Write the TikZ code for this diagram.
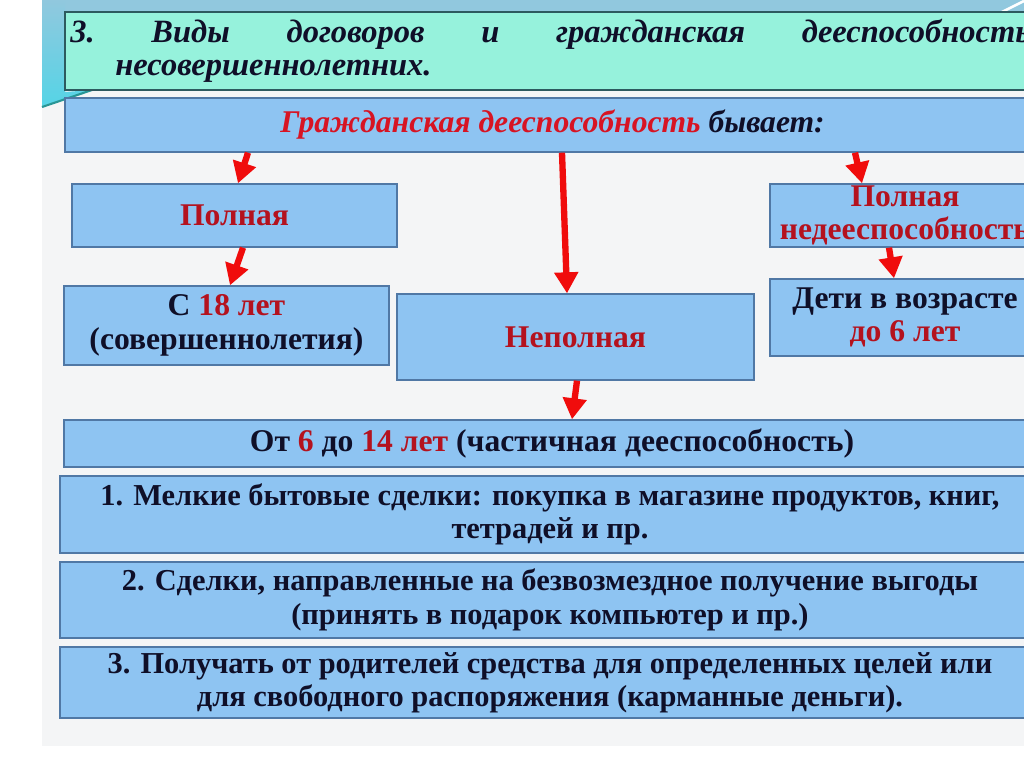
\documentclass[tikz,border=0pt]{standalone}
\usepackage{fontspec}
\setmainfont{Liberation Serif}
\usetikzlibrary{arrows.meta,calc}
\definecolor{boxfill}{RGB}{142,196,242}
\definecolor{boxline}{RGB}{80,120,165}
\definecolor{titlefill}{RGB}{150,242,220}
\definecolor{titleline}{RGB}{45,90,95}
\definecolor{redtxt}{RGB}{180,18,30}
\definecolor{redhead}{RGB}{215,20,35}
\definecolor{arrred}{RGB}{240,12,12}
\definecolor{darktext}{RGB}{15,15,40}
\definecolor{panel}{RGB}{244,245,246}
\definecolor{topblue}{RGB}{145,200,222}
\definecolor{cyanbit}{RGB}{85,212,230}
\definecolor{tealline}{RGB}{40,150,150}
\begin{document}
\begin{tikzpicture}[x=0.02cm,y=-0.02cm,
  box/.style={draw=boxline, line width=0.8pt, fill=boxfill, inner sep=0pt, align=center,
    font=\bfseries\fontsize{18}{19}\selectfont, text=darktext},
  wide/.style={font=\bfseries\fontsize{17.3}{19}\selectfont},
  titlebox/.style={draw=titleline, line width=0.8pt, fill=titlefill, inner sep=0pt},
  titletext/.style={inner sep=0pt, anchor=base west, font=\bfseries\itshape\fontsize{18.5}{19}\selectfont, text=darktext},
  arr/.style={draw=arrred, line width=3.6pt, -{Triangle[width=0.46cm,length=0.42cm]}}]
\clip (0,0) rectangle (1024,767);
% background
\fill[white] (0,0) rectangle (1024,767);
\fill[panel] (42,0) rectangle (1024,746);
\fill[topblue] (42,0) rectangle (1024,12);
\shade[top color=topblue, bottom color=cyanbit] (42,0) -- (65,0) -- (65,92) -- (92,90) -- (42,106) -- cycle;
\draw[tealline, line width=1.2pt] (42,107) -- (92,90);
\draw[white, line width=1.5pt] (1000,13) -- (1024,1);
% boxes
\node[titlebox, minimum width=19.5cm, minimum height=1.56cm] (title) at (552.5,51) {};
\node[titletext] (tA) at (70,43) {\makebox[19.2cm][s]{3.\hfill Виды\hfill договоров\hfill и\hfill гражданская\hfill дееспособность}};
\node[titletext] (tB) at (115,76) {несовершеннолетних.};
\node[box, minimum width=19.5cm, minimum height=1.08cm, font=\bfseries\itshape\fontsize{18}{19}\selectfont] (gr) at (552.5,125) {\textcolor{redhead}{Гражданская дееспособность} бывает:};
\node[box, minimum width=6.5cm, minimum height=1.26cm] (pol) at (234.5,215.5) {\textcolor{redtxt}{Полная}};
\node[box, minimum width=6.5cm, minimum height=1.58cm] (c18) at (226.5,325.5) {С \textcolor{redtxt}{18 лет}\\(совершеннолетия)};
\node[box, minimum width=7.14cm, minimum height=1.72cm] (nep) at (575.5,337) {\textcolor{redtxt}{Неполная}};
\node[box, minimum width=5.4cm, minimum height=1.26cm, text=redtxt] (ned) at (905,215.5) {Полная\\недееспособность};
\node[box, minimum width=5.4cm, minimum height=1.54cm] (deti) at (905,317.5) {Дети в возрасте\\\textcolor{redtxt}{до 6 лет}};
\node[box, minimum width=19.52cm, minimum height=0.94cm] (ot6) at (552,443.5) {От \textcolor{redtxt}{6} до \textcolor{redtxt}{14 лет} (частичная дееспособность)};
\node[box, wide, minimum width=19.6cm, minimum height=1.54cm] (b1) at (550,514.5) {1. Мелкие бытовые сделки: покупка в магазине продуктов, книг,\\тетрадей и пр.};
\node[box, wide, minimum width=19.6cm, minimum height=1.52cm] (b2) at (550,600) {2. Сделки, направленные на безвозмездное получение выгоды\\(принять в подарок компьютер и пр.)};
\node[box, wide, minimum width=19.6cm, minimum height=1.42cm] (b3) at (550,682.5) {3. Получать от родителей средства для определенных целей или\\для свободного распоряжения (карманные деньги).};
% arrows
\draw[arr] ($(gr.south -| pol.north)+(0.27cm,0)$) -- ($(pol.north)+(0.07cm,0)$);
\draw[arr] ($(gr.south -| nep.north)+(-0.27cm,0)$) -- ($(nep.north)+(-0.17cm,0)$);
\draw[arr] ($(gr.south -| ned.north)+(-1.0cm,0)$) -- ($(ned.north)+(-0.86cm,0)$);
\draw[arr] ($(pol.south)+(0.17cm,0)$) -- ($(c18.north)+(0.07cm,0)$);
\draw[arr] ($(ned.south)+(-0.32cm,0)$) -- ($(deti.north)+(-0.22cm,0)$);
\draw[arr] ($(nep.south)+(0.03cm,0)$) -- ($(ot6.north)+(0.4cm,0)$);
\end{tikzpicture}
\end{document}
